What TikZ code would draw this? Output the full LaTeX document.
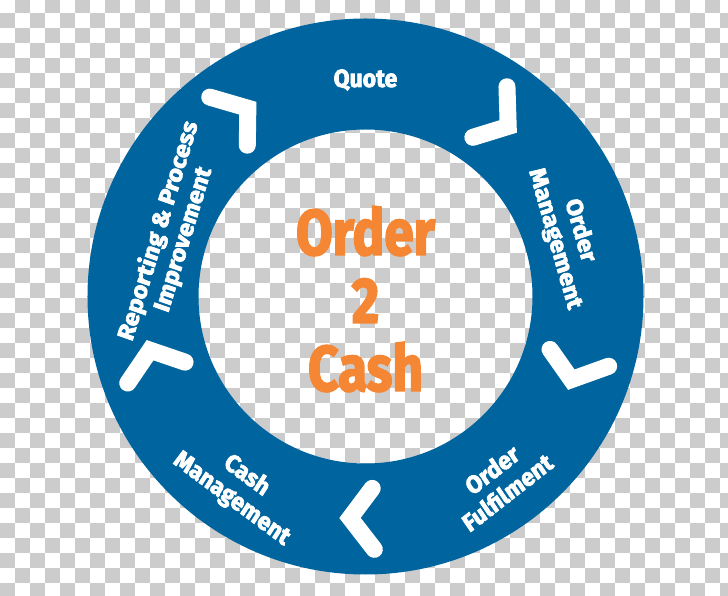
\documentclass[tikz,border=0pt]{standalone}
\usepackage{fontspec}
\setmainfont{Fira Sans}[BoldFeatures={FakeBold=3}]
\definecolor{ringblue}{RGB}{0,101,158}
\definecolor{huborange}{RGB}{245,134,52}
\definecolor{checkgray}{RGB}{204,204,204}

\begin{document}
\begin{tikzpicture}[x=1pt, y=1pt,
    stage/.style={text=white, font=\bfseries\fontsize{24.7}{28}\selectfont,
      align=center, inner sep=0pt, xscale=0.93},
    hub/.style={text=huborange, font=\bfseries\fontsize{64}{68}\selectfont,
      align=center, inner sep=0pt, xscale=0.83},
    chev/.style={white, line width=17pt, line cap=round, line join=miter}]
  \useasboundingbox (-365.5,-299.5) rectangle (362.5,296.5);
  % checker background
  \fill[white] (-365.5,-299.5) rectangle (362.5,296.5);
  \foreach \j in {0,...,39}{
    \pgfmathtruncatemacro\s{mod(\j+1,2)}
    \foreach \k in {0,...,24}
      \fill[checkgray] ({15*(2*\k+\s)-365.5},{298.2-15*\j}) rectangle ++(15,-15);
  }
  % ring
  \fill[ringblue, even odd rule] (0,0) circle[radius=278] (0,0) circle[radius=167];
  \node[hub] (hub) at (0,-2.5) {Order\\2\\Cash};
  \node[stage] (quote) at (90:216.5) {Quote};
  \node[stage, rotate=-73] (ordmgmt) at (17:211) {Order\\Management};
  \node[stage, rotate=36] (fulfil) at (-54:228) {Order\\Fulfilment};
  \node[stage, rotate=-34.6] (cashmgmt) at (-123.5:229) {Cash\\Management};
  \node[stage, rotate=72] (report) at (162.5:204) {Reporting \& Process\\Improvement};
  % arrows between stages
  \foreach \a in {128,56,-16,-88,-160}
    \draw[chev] (\a:253) -- ({\a-6}:222) -- (\a:192);
\end{tikzpicture}
\end{document}
